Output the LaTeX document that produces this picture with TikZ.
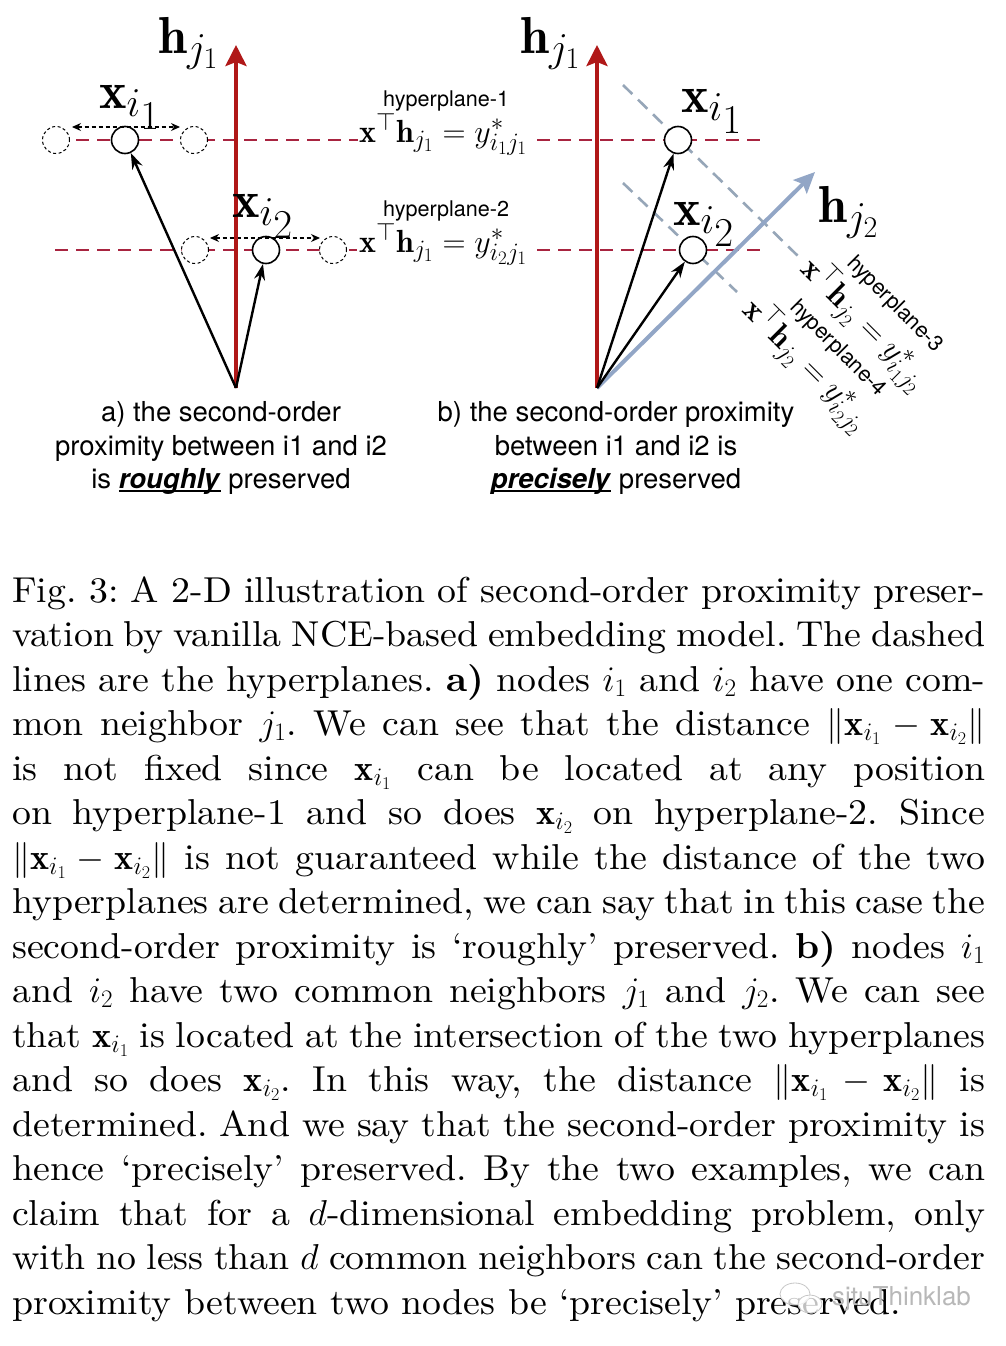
\RequirePackage{fix-cm}
\documentclass[tikz,border=0pt]{standalone}
\usepackage{amsmath}
\usepackage{fontspec}
\newfontfamily\helv{TeX Gyre Heros}
\newfontfamily\capfont{lmroman10}[Extension=.otf, UprightFont=*-regular, BoldFont=*-bold, ItalicFont=*-italic, BoldItalicFont=*-bolditalic, FakeStretch=1.05]
\usetikzlibrary{arrows.meta}
\DeclareMathSizes{32}{32}{25}{19}
\DeclareMathSizes{52}{52}{41}{30}
\definecolor{vecred}{RGB}{176,24,24}
\definecolor{hpred}{RGB}{168,36,64}
\definecolor{hpblue}{RGB}{150,166,184}
\definecolor{jblue}{RGB}{146,166,198}
\newcommand{\ulbold}[1]{\setbox0\hbox{#1}\rlap{\rule[-3pt]{\wd0}{2pt}}\box0\relax}
\frenchspacing
\begin{document}
\begin{tikzpicture}[x=1pt,y=-1pt,
  bigmath/.style={font=\fontsize{52}{60}\selectfont, inner sep=0, anchor=base west},
  eqlabel/.style={font=\fontsize{32}{36}\selectfont, inner sep=0, anchor=base west},
  hplabel/.style={font=\helv\fontsize{21.6}{24}\selectfont, inner sep=0, anchor=base west},
  sublabel/.style={font=\helv\fontsize{27.5}{33}\selectfont, inner sep=0, anchor=base},
  capline/.style={font=\capfont\fontsize{36}{44.5}\selectfont, inner sep=0, anchor=base west},
  ptnode/.style={circle, draw=black, line width=1.6pt, fill=white, minimum size=27pt, inner sep=0},
  ghost/.style={circle, draw=black, dash pattern=on 3pt off 2.5pt, line width=1pt, fill=white, minimum size=27pt, inner sep=0},
  vec/.style={line width=2.4pt, -{Stealth[length=16pt,width=11pt]}},
  redvec/.style={draw=vecred, line width=4pt, -{Stealth[length=21pt,width=21pt,inset=4pt]}},
  bluevec/.style={draw=jblue, line width=4pt, -{Stealth[length=21pt,width=19pt,inset=4pt]}},
  hpline/.style={draw=hpred, line width=2.6pt, dash pattern=on 13pt off 8pt},
  hplineb/.style={draw=hpblue, line width=2.6pt, dash pattern=on 13pt off 8pt},
  moveline/.style={line width=1.2pt, dash pattern=on 4pt off 3pt, {Stealth[length=9pt,width=8pt]}-{Stealth[length=9pt,width=8pt]}}
]
\useasboundingbox[fill=white] (0,0) rectangle (1006,1346);

% ---------- hyperplane lines (horizontal) ----------
\coordinate (l1a) at (55,140);  \coordinate (l1b) at (358,140);
\coordinate (l1c) at (537,140); \coordinate (l1d) at (762,140);
\coordinate (l2a) at (55,250);  \coordinate (l2b) at (357,250);
\coordinate (l2c) at (537,250); \coordinate (l2d) at (762,250);
\draw[hpline] (l1a) -- (l1b);
\draw[hpline] (l1c) -- (l1d);
\draw[hpline] (l2a) -- (l2b);
\draw[hpline] (l2c) -- (l2d);

% ---------- hyperplane lines (diagonal) ----------
\coordinate (l3a) at (623,85);  \coordinate (l3b) at (800,258);
\coordinate (l4a) at (623,183); \coordinate (l4b) at (737,292);
\draw[hplineb] (l3a) -- (l3b);
\draw[hplineb] (l4a) -- (l4b);

% ---------- origins and tips ----------
\coordinate (oa) at (236,388);
\coordinate (ta) at (236,45);
\coordinate (ob) at (597,388);
\coordinate (tb) at (597,45);
\coordinate (tj2) at (815,172);

% ---------- panel a points ----------
\node[ghost] (ga1) at (56,140) {};
\node[ghost] (ga2) at (194,140) {};
\node[ptnode] (xa1) at (125,140) {};
\node[ghost] (ga3) at (195,250) {};
\node[ghost] (ga4) at (333,250) {};
\node[ptnode] (xa2) at (266,250) {};
\coordinate (m1a) at (72,127);  \coordinate (m1b) at (180,127);
\coordinate (m2a) at (210,238); \coordinate (m2b) at (320,238);
\draw[moveline] (m1a) -- (m1b);
\draw[moveline] (m2a) -- (m2b);

\draw[redvec] (oa) -- (ta);
\draw[vec] (oa) -- (xa1);
\draw[vec] (oa) -- (xa2);

% ---------- panel b points ----------
\draw[bluevec] (ob) -- (tj2);
\node[ptnode] (xb1) at (678,140) {};
\node[ptnode] (xb2) at (693,250) {};
\draw[redvec] (ob) -- (tb);
\draw[vec] (ob) -- (xb1);
\draw[vec] (ob) -- (xb2);

% ---------- big labels ----------
\node[bigmath] (lha) at (158,53) {$\mathbf{h}_{j_1}$};
\node[bigmath] (lhb) at (520,53) {$\mathbf{h}_{j_1}$};
\node[bigmath] (lxa1) at (99,108) {$\mathbf{x}_{i_{\scriptstyle 1}}$};
\node[bigmath] (lxa2) at (232,217) {$\mathbf{x}_{i_{\scriptstyle 2}}$};
\node[bigmath] (lxb1) at (681,112) {$\mathbf{x}_{i_{\scriptstyle 1}}$};
\node[bigmath] (lxb2) at (673,225) {$\mathbf{x}_{i_{\scriptstyle 2}}$};
\node[bigmath] (lhj2) at (818,222) {$\mathbf{h}_{j_2}$};

% ---------- hyperplane labels ----------
\node[hplabel] (hp1) at (383,106) {hyperplane-1};
\node[eqlabel] (eq1) at (359,142) {$\mathbf{x}^{\top}\mathbf{h}_{j_1} = y^*_{i_1j_1}$};
\node[hplabel] (hp2) at (383,216) {hyperplane-2};
\node[eqlabel] (eq2) at (359,252) {$\mathbf{x}^{\top}\mathbf{h}_{j_1} = y^*_{i_2j_1}$};
\node[eqlabel, rotate=-45] (eq3) at (799,270) {$\mathbf{x}^{\top}\mathbf{h}_{j_2} = y^*_{i_1j_2}$};
\node[hplabel, rotate=-45] (hp3) at (846,264) {hyperplane-3};
\node[eqlabel, rotate=-45] (eq4) at (741,311) {$\mathbf{x}^{\top}\mathbf{h}_{j_2} = y^*_{i_2j_2}$};
\node[hplabel, rotate=-45] (hp4) at (789,308) {hyperplane-4};

% ---------- sub captions ----------
\node[sublabel] (sa1) at (221,421.7) {a) the second-order};
\node[sublabel] (sa2) at (221,455.2) {proximity between i1 and i2};
\node[sublabel] (sa3) at (221,488.7) {is \ulbold{\textbf{\textit{roughly}}} preserved};
\node[sublabel] (sb1) at (616,421.7) {b) the second-order proximity};
\node[sublabel] (sb2) at (616,455.2) {between i1 and i2 is};
\node[sublabel] (sb3) at (616,488.7) {\ulbold{\textbf{\textit{precisely}}} preserved};

% ---------- caption ----------
\newcommand{\xv}[1]{\mathbf{x}_{i_{#1}}}
\node[capline] (c1) at (12,602) {\makebox[973pt][s]{Fig. 3: A 2-D illustration of second-order proximity preser-}};
\node[capline] (c2) at (12,646.5) {\makebox[973pt][s]{vation by vanilla NCE-based embedding model. The dashed}};
\node[capline] (c3) at (12,691) {\makebox[973pt][s]{lines are the hyperplanes. \textbf{a)} nodes $i_1$ and $i_2$ have one com-}};
\node[capline] (c4) at (12,735.5) {\makebox[973pt][s]{mon neighbor $j_1$. We can see that the distance $\|\xv1 - \xv2\|$}};
\node[capline] (c5) at (12,780) {\makebox[973pt][s]{is not fixed since $\xv1$ can be located at any position}};
\node[capline] (c6) at (12,824.5) {\makebox[973pt][s]{on hyperplane-1 and so does $\xv2$ on hyperplane-2. Since}};
\node[capline] (c7) at (12,869) {\makebox[973pt][s]{$\|\xv1 - \xv2\|$ is not guaranteed while the distance of the two}};
\node[capline] (c8) at (12,913.5) {\makebox[973pt][s]{hyperplanes are determined, we can say that in this case the}};
\node[capline] (c9) at (12,958) {\makebox[973pt][s]{second-order proximity is ‘roughly’ preserved. \textbf{b)} nodes $i_1$}};
\node[capline] (c10) at (12,1002.5) {\makebox[973pt][s]{and $i_2$ have two common neighbors $j_1$ and $j_2$. We can see}};
\node[capline] (c11) at (12,1047) {\makebox[973pt][s]{that $\xv1$ is located at the intersection of the two hyperplanes}};
\node[capline] (c12) at (12,1091.5) {\makebox[973pt][s]{and so does $\xv2$. In this way, the distance $\|\xv1 - \xv2\|$ is}};
\node[capline] (c13) at (12,1136) {\makebox[973pt][s]{determined. And we say that the second-order proximity is}};
\node[capline] (c14) at (12,1180.5) {\makebox[973pt][s]{hence ‘precisely’ preserved. By the two examples, we can}};
\node[capline] (c15) at (12,1225) {\makebox[973pt][s]{claim that for a $d$-dimensional embedding problem, only}};
\node[capline] (c16) at (12,1269.5) {\makebox[973pt][s]{with no less than $d$ common neighbors can the second-order}};
\node[capline] (c17) at (12,1314) {proximity between two nodes be ‘precisely’ preserved.};

% ---------- watermark ----------
\fill[white, opacity=0.75] (795,1294) ellipse [x radius=15pt, y radius=11pt];
\draw[black!22, line width=0.8pt] (795,1294) ellipse [x radius=15pt, y radius=11pt];
\fill[white, opacity=0.75] (810,1304) ellipse [x radius=12pt, y radius=9pt];
\draw[black!22, line width=0.8pt] (810,1304) ellipse [x radius=12pt, y radius=9pt];
\node[font=\helv\fontsize{26}{28}\selectfont, text=black!28, inner sep=0, anchor=base west] (wm) at (832,1305) {sjtuThinklab};
\end{tikzpicture}
\end{document}
